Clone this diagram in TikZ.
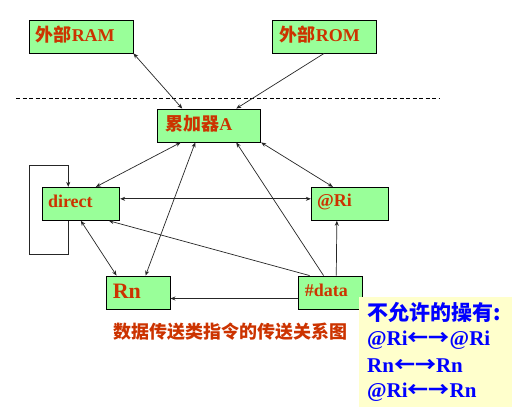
\documentclass[tikz,border=0pt]{standalone}
\usepackage{fontspec}
\setmainfont{Liberation Serif}
\newfontfamily\cjk{Noto Sans CJK SC}
\usetikzlibrary{arrows.meta}
\definecolor{boxgreen}{HTML}{99FF99}
\definecolor{txtred}{RGB}{204,51,0}
\definecolor{noteyellow}{HTML}{FFFFCC}
\definecolor{noteblue}{HTML}{0000FF}
\tikzset{
  box/.style={draw=black, line width=0.9bp, fill=boxgreen, inner sep=0pt},
  lbl/.style={anchor=west, inner sep=0pt, text=txtred, font=\fontsize{18bp}{21bp}\selectfont\bfseries},
  conn/.style={draw=black!85, line width=0.7bp},
  sgl/.style={conn, -{Stealth[length=5bp,width=4bp]}},
  dbl/.style={conn, {Stealth[length=5bp,width=4bp]}-{Stealth[length=5bp,width=4bp]}},
  note/.style={anchor=west, inner sep=0pt, text=noteblue, font=\fontsize{21bp}{26bp}\selectfont\bfseries}
}
\begin{document}
\begin{tikzpicture}[x=1bp,y=-1bp]
\useasboundingbox (0,0) rectangle (514,413);
\fill[white] (0,0) rectangle (514,413);
% boxes
\node[box, minimum width=104bp, minimum height=33bp] (ram) at (81,36.5) {};
\node[box, minimum width=104bp, minimum height=33bp] (rom) at (324,36.5) {};
\node[box, minimum width=103bp, minimum height=33bp] (A) at (209.2,125.5) {};
\node[box, minimum width=77.4bp, minimum height=33bp] (direct) at (81,203.8) {};
\node[box, minimum width=77.4bp, minimum height=33bp] (ri) at (350,203.8) {};
\node[box, minimum width=64bp, minimum height=33bp] (rn) at (138,292.5) {};
\node[box, minimum width=64bp, minimum height=33bp] (data) at (330,292.5) {};
% labels
\node[lbl] (tram) at ([xshift=7bp,yshift=1.5bp]ram.west) {{\cjk\bfseries 外部}RAM};
\node[lbl] (trom) at ([xshift=8bp,yshift=1.5bp]rom.west) {{\cjk\bfseries 外部}ROM};
\node[lbl] (tA) at ([xshift=8bp,yshift=1.5bp]A.west) {{\cjk\bfseries 累加器}A};
\node[lbl] (tdirect) at ([xshift=6bp,yshift=2.5bp]direct.west) {direct};
\node[lbl] (tri) at ([xshift=6bp,yshift=2bp]ri.west) {@Ri};
\node[lbl, font=\fontsize{22bp}{25bp}\selectfont\bfseries] (trn) at ([xshift=7bp,yshift=1.5bp]rn.west) {Rn};
\node[lbl] (tdata) at ([xshift=7bp,yshift=2.5bp]data.west) {\#data};
% dashed separator
\coordinate (d1) at (16,98.3);
\coordinate (d2) at (440,98.3);
\draw[black, line width=0.7bp, dash pattern=on 4bp off 2.5bp] (d1) -- (d2);
% connectors
\draw[dbl] (ram.south east) -- ([xshift=25bp]A.north west);
\draw[sgl] (rom.south) -- ([xshift=79bp]A.north west);
\draw[dbl] ([xshift=23.5bp]A.south west) -- ([xshift=54bp]direct.north west);
\draw[dbl] ([xshift=38bp]A.south west) -- ([xshift=40bp]rn.north west);
\draw[sgl] ([xshift=26bp]data.north west) -- ([xshift=79bp]A.south west);
\draw[dbl] (A.south east) -- ([xshift=22bp]ri.north west);
\draw[dbl] ([yshift=5bp]direct.east) -- ([yshift=5bp]ri.west);
\draw[dbl] ([xshift=39bp]direct.south west) -- ([xshift=11bp]rn.north west);
\draw[sgl] ([xshift=12bp]data.north west) -- ([xshift=67bp]direct.south west);
\draw[sgl] ([xshift=38.7bp]data.north west) -- ([xshift=26bp]ri.south west);
\draw[sgl] ([yshift=-6bp]data.west) -- ([yshift=-6bp]rn.east);
% self loop on direct
\coordinate (lp1) at (29.3,254.3);
\coordinate (lp2) at (29.3,165.3);
\draw[sgl] ([xshift=26.4bp]direct.south west) |- (lp1) -- (lp2) -| ([xshift=26.4bp]direct.north west);
% caption
\node[inner sep=0pt, text=txtred, font=\cjk\bfseries\fontsize{18bp}{20bp}\selectfont] (cap) at (230.5,332) {数据传送类指令的传送关系图};
% note box
\node[fill=noteyellow, minimum width=153bp, minimum height=110bp, inner sep=0pt] (nb) at (435.5,352) {};
\node[note] (n1) at (367,312.5) {{\cjk\bfseries 不允许的操有:}};
\node[note] (n2) at (367,340) {@Ri{\cjk\bfseries ←→}@Ri};
\node[note] (n3) at (367,366) {Rn{\cjk\bfseries ←→}Rn};
\node[note] (n4) at (367,392) {@Ri{\cjk\bfseries ←→}Rn};
\end{tikzpicture}
\end{document}
